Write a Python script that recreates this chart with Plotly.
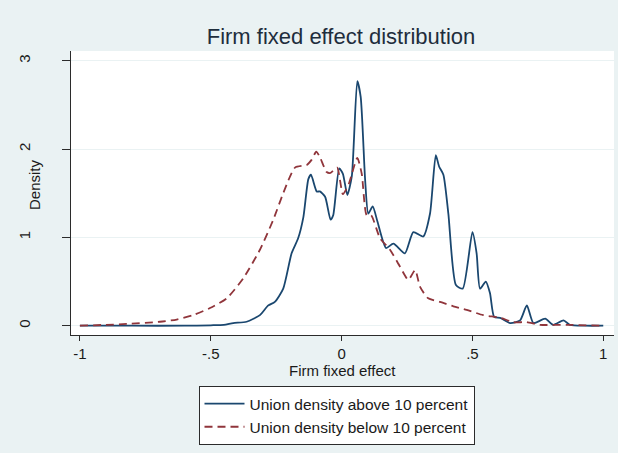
import plotly.graph_objects as go

# Kernel density of firm fixed effects, split by union density
x_above = [-1.0, -0.8, -0.6, -0.5, -0.45, -0.414, -0.363, -0.312, -0.28, -0.255, -0.223,
           -0.191, -0.166, -0.146, -0.127, -0.117, -0.095, -0.083, -0.063, -0.042, -0.032,
           -0.009, 0.005, 0.022, 0.039, 0.060, 0.073, 0.090, 0.102, 0.119, 0.137, 0.170,
           0.198, 0.242, 0.274, 0.312, 0.338, 0.360, 0.373, 0.389, 0.408, 0.437, 0.463,
           0.500, 0.516, 0.529, 0.551, 0.567, 0.583, 0.606, 0.644, 0.682, 0.708, 0.733,
           0.778, 0.809, 0.848, 0.873, 0.93, 1.0]
y_above = [0.0, 0.0, 0.0, 0.005, 0.01, 0.03, 0.045, 0.12, 0.23, 0.27, 0.42,
           0.82, 0.99, 1.23, 1.66, 1.71, 1.52, 1.52, 1.46, 1.20, 1.25,
           1.78, 1.72, 1.48, 1.69, 2.77, 2.59, 1.65, 1.27, 1.35, 1.18, 0.88,
           0.93, 0.82, 1.06, 1.01, 1.27, 1.93, 1.80, 1.71, 1.27, 0.46, 0.42,
           1.06, 0.82, 0.42, 0.50, 0.37, 0.10, 0.09, 0.03, 0.06, 0.23, 0.03,
           0.08, 0.01, 0.06, 0.01, 0.0, 0.0]

x_below = [-1.0, -0.9, -0.821, -0.694, -0.630, -0.567, -0.503, -0.439, -0.375, -0.312,
           -0.261, -0.223, -0.178, -0.133, -0.114, -0.097, -0.083, -0.057, -0.042, -0.017,
           0.005, 0.028, 0.060, 0.077, 0.096, 0.113, 0.147, 0.185, 0.223, 0.255, 0.281,
           0.300, 0.331, 0.376, 0.427, 0.478, 0.541, 0.606, 0.656, 0.708, 0.758, 0.86, 1.0]
y_below = [0.0, 0.01, 0.02, 0.045, 0.07, 0.12, 0.20, 0.31, 0.54, 0.86,
           1.20, 1.50, 1.79, 1.82, 1.88, 1.97, 1.91, 1.74, 1.73, 1.79,
           1.49, 1.61, 1.90, 1.72, 1.25, 1.25, 0.99, 0.86, 0.67, 0.52, 0.63,
           0.44, 0.31, 0.27, 0.22, 0.18, 0.12, 0.09, 0.04, 0.04, 0.01, 0.01, 0.0]

x_ticks = [-1, -0.5, 0, 0.5, 1]
x_tick_labels = ["-1", "-.5", "0", ".5", "1"]
y_ticks = [0, 1, 2, 3]

NAVY = "#1a476f"
MAROON = "#90353b"
BG = "#eaf2f3"
AXIS = "#2b2b2b"
TEXT = "#1a1a1a"
FONT = "Liberation Sans, Arial, sans-serif"

# plot area in pixels: x 71..614, y 51..335
PLOT_W, PLOT_H = 543, 284

fig = go.Figure()
fig.add_trace(go.Scatter(x=x_above, y=y_above, mode="lines",
                         name="Union density above 10 percent",
                         line=dict(color=NAVY, width=1.8, shape="spline", smoothing=0.6)))
fig.add_trace(go.Scatter(x=x_below, y=y_below, mode="lines",
                         name="Union density below 10 percent",
                         line=dict(color=MAROON, width=1.8, dash="8px,5px",
                                   shape="spline", smoothing=0.6)))

fig.update_layout(
    width=618, height=453,
    margin=dict(l=71, r=4, t=51, b=118, autoexpand=False),
    paper_bgcolor=BG, plot_bgcolor="white",
    font=dict(family=FONT, size=15, color=TEXT),
    title=dict(text="Firm fixed effect distribution", x=341 / 618, xanchor="center",
               y=1 - 36 / 453, yanchor="middle",
               font=dict(size=22, color="#1e2d3c")),
    xaxis=dict(range=[-1.034, 1.041], tickvals=x_ticks, ticktext=x_tick_labels,
               showgrid=False, zeroline=False, showline=True, linecolor=AXIS,
               linewidth=1.2, ticks="outside", ticklen=5, tickcolor=AXIS,
               tickfont=dict(size=15)),
    yaxis=dict(range=[-0.105, 3.11], tickvals=y_ticks, tickangle=-90,
               showgrid=True, gridcolor=BG, gridwidth=1.2, zeroline=False,
               showline=True, linecolor=AXIS, linewidth=1.2, ticks="outside",
               ticklen=8, tickcolor=AXIS, tickfont=dict(size=15),
               ticklabelstandoff=26),
    annotations=[
        dict(text="Density", textangle=-90, xref="paper", yref="paper",
             x=(34 - 71) / PLOT_W, y=(335 - 185) / PLOT_H,
             xanchor="center", yanchor="middle", showarrow=False,
             font=dict(size=15, color=TEXT)),
        dict(text="Firm fixed effect", xref="paper", yref="paper",
             x=(342 - 71) / PLOT_W, y=(335 - 370) / PLOT_H,
             xanchor="center", yanchor="middle", showarrow=False,
             font=dict(size=15, color=TEXT)),
    ],
    legend=dict(x=(336.5 - 71) / PLOT_W, y=(335 - 386) / PLOT_H,
                xanchor="center", yanchor="top", bgcolor="white",
                bordercolor=AXIS, borderwidth=1, font=dict(size=15.5),
                itemwidth=40, tracegroupgap=0),
    showlegend=True,
)

fig.write_html("out.html")
